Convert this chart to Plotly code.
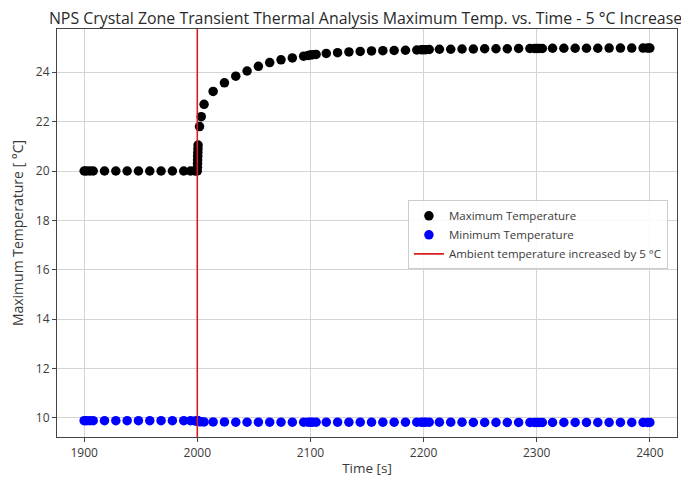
import plotly.graph_objects as go

# ---- data ----
time_s = [1900, 1902, 1905, 1908, 1918, 1928, 1938, 1948, 1958, 1968, 1978, 1988, 1994, 1998,
          2000, 2000.1, 2000.2, 2000.3, 2000.4, 2000.5, 2000.6, 2000.7,
          2002, 2003.5, 2006, 2014, 2024, 2034, 2044, 2054, 2064, 2074, 2084, 2094, 2098,
          2100, 2102, 2105, 2114, 2124, 2134, 2144, 2154, 2164, 2174, 2184, 2194, 2198,
          2200, 2202, 2205, 2214, 2224, 2234, 2244, 2254, 2264, 2274, 2284, 2294, 2298,
          2300, 2302, 2305, 2314, 2324, 2334, 2344, 2354, 2364, 2374, 2384, 2394, 2398, 2400]

max_temp = [20.0, 20.0, 20.0, 20.0, 20.0, 20.0, 20.0, 20.0, 20.0, 20.0, 20.0, 20.0, 20.0, 20.0,
            20.0, 20.15, 20.3, 20.45, 20.6, 20.75, 20.9, 21.05,
            21.8, 22.2, 22.7, 23.22, 23.57, 23.84, 24.05, 24.24, 24.39, 24.5, 24.58, 24.65, 24.68,
            24.7, 24.71, 24.72, 24.76, 24.79, 24.82, 24.84, 24.86, 24.87, 24.88, 24.89, 24.9, 24.91,
            24.91, 24.91, 24.92, 24.93, 24.93, 24.94, 24.94, 24.95, 24.95, 24.95, 24.96, 24.96, 24.96,
            24.96, 24.96, 24.96, 24.97, 24.97, 24.97, 24.97, 24.97, 24.98, 24.98, 24.98, 24.98, 24.98, 24.98]

min_temp = [9.89, 9.89, 9.89, 9.89, 9.89, 9.89, 9.89, 9.89, 9.89, 9.89, 9.89, 9.89, 9.89, 9.88,
            9.88, 9.88, 9.88, 9.88, 9.88, 9.88, 9.88, 9.88,
            9.85, 9.85, 9.84, 9.84, 9.84, 9.83, 9.83, 9.83, 9.83, 9.83, 9.83, 9.83, 9.83,
            9.83, 9.83, 9.83, 9.83, 9.83, 9.83, 9.83, 9.83, 9.83, 9.83, 9.83, 9.83, 9.83,
            9.83, 9.83, 9.83, 9.83, 9.83, 9.83, 9.82, 9.82, 9.82, 9.82, 9.82, 9.82, 9.82,
            9.82, 9.82, 9.82, 9.82, 9.82, 9.82, 9.82, 9.82, 9.82, 9.82, 9.82, 9.82, 9.82, 9.82]

event_time = 2000
x_ticks = [1900, 2000, 2100, 2200, 2300, 2400]
y_ticks = [10, 12, 14, 16, 18, 20, 22, 24]
x_range = [1876, 2424]
y_range = [9.23, 25.75]

FONT = "Open Sans"

fig = go.Figure()
fig.add_trace(go.Scatter(x=time_s, y=max_temp, mode="markers", name="Maximum Temperature",
                         marker=dict(color="black", size=9.5)))
fig.add_trace(go.Scatter(x=time_s, y=min_temp, mode="markers", name="Minimum Temperature",
                         marker=dict(color="#0000ff", size=9.5)))
fig.add_trace(go.Scatter(x=[event_time, event_time], y=y_range, mode="lines",
                         name="Ambient temperature increased by 5 °C",
                         line=dict(color="#d62020", width=1.6)))

axis_common = dict(showline=True, linecolor="#444", linewidth=1.2, mirror=True,
                   showgrid=True, gridcolor="#d4d4d4", gridwidth=1, zeroline=False,
                   ticks="outside", ticklen=4, tickcolor="#444", automargin=False,
                   tickfont=dict(family=FONT, size=12, color="#3a3a3a"))

# the page body adds an 8px offset, so the figure is sized 8px smaller and margins compensate
fig.update_layout(
    width=681, height=473,
    margin=dict(l=49, r=12, t=21, b=44),
    paper_bgcolor="white", plot_bgcolor="white",
    font=dict(family=FONT, color="#333"),
    title=dict(text="NPS Crystal Zone Transient Thermal Analysis Maximum Temp. vs. Time - 5 °C Increase",
               x=0.525, xanchor="center", y=0.978, yanchor="middle",
               font=dict(family=FONT, size=15.9, color="#2a2a2a")),
    xaxis=dict(range=x_range, tickvals=x_ticks,
               title=dict(text="Time [s]", font=dict(family=FONT, size=13.5, color="#3a3a3a"), standoff=4),
               **axis_common),
    yaxis=dict(range=y_range, tickvals=y_ticks,
               title=dict(text="Maximum Temperature [ °C]", font=dict(family=FONT, size=14, color="#3a3a3a"), standoff=14),
               **axis_common),
    legend=dict(x=0.566, y=0.58, xanchor="left", yanchor="top",
                bgcolor="rgba(255,255,255,0.85)", bordercolor="#cccccc", borderwidth=1,
                font=dict(family=FONT, size=11.5, color="#3a3a3a"), tracegroupgap=0),
    showlegend=True,
)

fig.write_html("out.html")
